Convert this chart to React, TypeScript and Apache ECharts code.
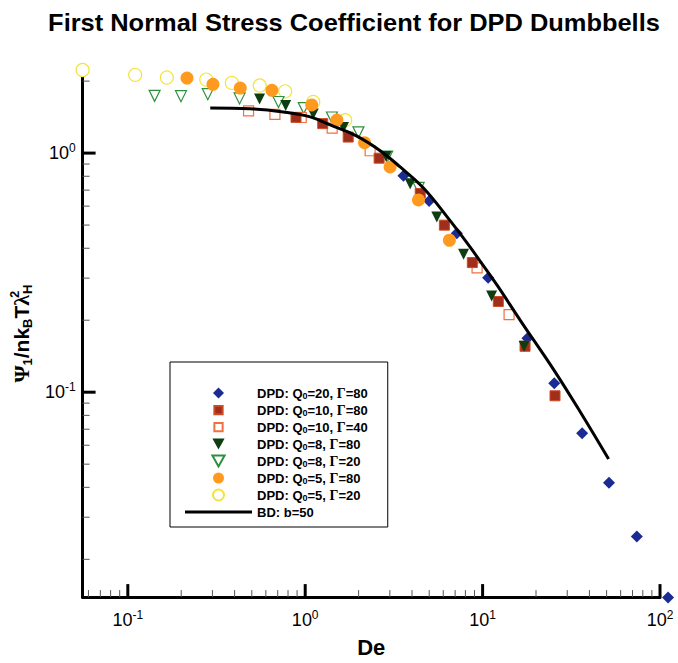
import React, { useEffect, useRef } from 'react';
import * as echarts from 'echarts';

// ---- data (De, Psi1 / nkT lambda_H^2) ----
const q20g80 = [[3.58, 0.804], [4.995, 0.631], [7.155, 0.4625], [10.74, 0.301], [17.9, 0.1682], [25.35, 0.1089], [36.4, 0.0674], [51.6, 0.0418], [74.0, 0.0249], [111, 0.01385]];
const q10g80 = [[0.8875, 1.411], [1.255, 1.328], [1.747, 1.167], [2.61, 0.952], [4.45, 0.678], [6.09, 0.4996], [8.75, 0.3484], [12.26, 0.2396], [17.35, 0.1556], [25.6, 0.0966]];
const q10g40 = [[0.4793, 1.501], [0.675, 1.451], [0.9495, 1.409], [1.419, 1.271], [2.323, 1.023], [9.31, 0.3314], [14.1, 0.2109]];
const q8g80 = [[0.5528, 1.682], [0.776, 1.58], [1.11, 1.456], [1.644, 1.28], [2.86, 0.967], [3.905, 0.745], [5.52, 0.54], [7.81, 0.3776], [11.24, 0.2528], [17.13, 0.1556]];
const q8g20 = [[0.1416, 1.735], [0.1994, 1.73], [0.2824, 1.763], [0.4266, 1.693], [0.707, 1.636], [0.981, 1.542], [1.414, 1.409], [1.996, 1.221], [2.897, 0.967], [4.36, 0.715]];
const q5g80 = [[0.2156, 2.06], [0.302, 1.94], [0.4305, 1.87], [0.649, 1.83], [1.088, 1.59], [1.509, 1.374], [2.16, 1.105], [3.01, 0.875], [4.35, 0.637], [6.5, 0.432]];
const q5g20 = [[0.0556, 2.226], [0.11, 2.125], [0.166, 2.07], [0.277, 2.03], [0.386, 1.966], [0.554, 1.917], [0.771, 1.813], [1.11, 1.636], [1.68, 1.374]];
const bdLine = [[0.2915, 1.542], [0.49, 1.532], [0.752, 1.486], [1.067, 1.418], [1.383, 1.311], [1.955, 1.177], [2.646, 1.023], [3.43, 0.875], [4.64, 0.7145], [6.28, 0.5436], [8.15, 0.4223], [9.68, 0.3537], [12.07, 0.2802], [16.41, 0.1983], [25.35, 0.1231], [35.9, 0.0816], [51.3, 0.0525]];

const seriesNames = [
  'DPD: Q0=20, G=80',
  'DPD: Q0=10, G=80',
  'DPD: Q0=10, G=40',
  'DPD: Q0=8, G=80',
  'DPD: Q0=8, G=20',
  'DPD: Q0=5, G=80',
  'DPD: Q0=5, G=20',
  'BD: b=50',
];
const legendLabels = [
  'DPD: Q{s|0}=20, {g|Γ}=80',
  'DPD: Q{s|0}=10, {g|Γ}=80',
  'DPD: Q{s|0}=10, {g|Γ}=40',
  'DPD: Q{s|0}=8, {g|Γ}=80',
  'DPD: Q{s|0}=8, {g|Γ}=20',
  'DPD: Q{s|0}=5, {g|Γ}=80',
  'DPD: Q{s|0}=5, {g|Γ}=20',
  'BD: b=50',
];

const X_MIN = 0.0556;
const X_MAX = 100;
const Y_MIN = 0.0139;
const Y_MAX = 2.226;
const xMajorTicks = [0.1, 1, 10, 100];
const yMajorTicks = [0.1, 1];
const mantissas = [2, 3, 4, 5, 6, 7, 8, 9];
const xDecades = [0.01, 0.1, 1, 10];
const yDecades = [0.01, 0.1, 1];

const FONT = '"Liberation Sans", Arial, sans-serif';
const SERIF = '"Liberation Serif", "Times New Roman", serif';

const ICON_DIAMOND = 'path://M5,0L10,5L5,10L0,5Z';
const ICON_SQUARE = 'path://M0,0M12,12M1.5,1.5L10.5,1.5L10.5,10.5L1.5,10.5Z';
const ICON_TRI = 'path://M0,0L10,0L5,9Z';
const ICON_CIRCLE = 'path://M5,0A5,5,0,1,1,5,10A5,5,0,1,1,5,0Z';
const ICON_LINE = 'path://M0,0L60,0L60,2.5L0,2.5Z';

export default function App() {
  const ref = useRef<HTMLDivElement>(null);

  useEffect(() => {
    if (!ref.current) return;
    const chart = echarts.init(ref.current, null, { renderer: 'svg' });

    const tickData: number[][] = [];
    xMajorTicks.forEach((v) => tickData.push([v, Y_MIN, 1]));
    yMajorTicks.forEach((v) => tickData.push([X_MIN, v, 1]));
    xDecades.forEach((d) => mantissas.forEach((m) => {
      const v = m * d;
      if (v > X_MIN && v < X_MAX) tickData.push([v, Y_MIN, 0]);
    }));
    yDecades.forEach((d) => mantissas.forEach((m) => {
      const v = m * d;
      if (v > Y_MIN && v < Y_MAX) tickData.push([X_MIN, v, 0]);
    }));

    const decadeFmt = (val: number) => {
      const e = Math.log10(val);
      if (Math.abs(e - Math.round(e)) > 1e-6) return '';
      return '10{sup|' + Math.round(e) + '}';
    };
    const labelRich = {
      sup: { fontSize: 12, lineHeight: 11, verticalAlign: 'top', fontFamily: FONT, color: '#000' },
    };

    const open = (c: string) => ({ color: '#ffffff', borderColor: c, borderWidth: 1.2, opacity: 1 });
    const icons = [ICON_DIAMOND, ICON_SQUARE, ICON_SQUARE, ICON_TRI, ICON_TRI, ICON_CIRCLE, ICON_CIRCLE, ICON_LINE];

    chart.setOption({
      animation: false,
      backgroundColor: '#fff',
      graphic: [
        {
          type: 'text',
          x: 354,
          y: 23,
          scaleX: 1.06,
          style: {
            text: 'First Normal Stress Coefficient for DPD Dumbbells',
            fill: '#000',
            font: 'bold 24px ' + FONT,
            textAlign: 'center',
            textVerticalAlign: 'middle',
          },
        },
      ],
      grid: { left: 82, right: 18, top: 70, bottom: 50, containLabel: false },
      legend: {
        orient: 'vertical',
        left: 170,
        top: 362,
        data: seriesNames.map((n, i) => ({ name: n, icon: icons[i] })),
        itemWidth: 67,
        itemHeight: 11,
        itemGap: 3,
        padding: [24, 20, 8, 15],
        borderColor: '#000',
        borderWidth: 1,
        backgroundColor: '#fff',
        formatter: (name: string) => legendLabels[seriesNames.indexOf(name)],
        textStyle: {
          fontFamily: FONT,
          fontSize: 13,
          fontWeight: 'bold',
          color: '#000',
          lineHeight: 14,
          rich: {
            s: { fontSize: 9, lineHeight: 8, verticalAlign: 'bottom', fontWeight: 'bold', fontFamily: FONT, color: '#000' },
            g: { fontSize: 14, fontWeight: 'bold', fontFamily: SERIF, color: '#000', lineHeight: 14 },
          },
        },
      },
      xAxis: {
        type: 'log',
        logBase: 10,
        min: X_MIN,
        max: X_MAX,
        axisLine: { lineStyle: { color: '#000', width: 3 } },
        axisTick: { show: false },
        splitLine: { show: false },
        axisLabel: {
          formatter: decadeFmt,
          fontSize: 18,
          fontFamily: FONT,
          color: '#000',
          lineHeight: 22,
          margin: 12,
          rich: labelRich,
          showMinLabel: false,
        },
        name: 'De',
        nameLocation: 'middle',
        nameGap: 37,
        nameTextStyle: { fontSize: 22, fontWeight: 'bold', fontFamily: FONT, color: '#000' },
      },
      yAxis: {
        type: 'log',
        logBase: 10,
        min: Y_MIN,
        max: Y_MAX,
        axisLine: { lineStyle: { color: '#000', width: 3 } },
        axisTick: { show: false },
        splitLine: { show: false },
        axisLabel: {
          formatter: decadeFmt,
          fontSize: 18,
          fontFamily: FONT,
          color: '#000',
          lineHeight: 22,
          margin: 7,
          rich: labelRich,
          showMinLabel: false,
          showMaxLabel: false,
        },
        name: '{gr|Ψ}{s|1}/nk{s|B}T{gr|λ}{p|2}{s|H}',
        nameLocation: 'middle',
        nameRotate: 90,
        nameGap: 38,
        nameTextStyle: {
          fontSize: 21,
          fontWeight: 'bold',
          fontFamily: FONT,
          color: '#000',
          lineHeight: 26,
          rich: {
            gr: { fontSize: 22, fontFamily: SERIF, color: '#000', lineHeight: 26 },
            s: { fontSize: 13, lineHeight: 13, verticalAlign: 'bottom', fontWeight: 'bold', fontFamily: FONT, color: '#000' },
            p: { fontSize: 13, lineHeight: 13, verticalAlign: 'top', fontWeight: 'bold', fontFamily: FONT, color: '#000', width: 1 },
          },
        },
      },
      series: [
        {
          name: seriesNames[6], type: 'scatter', data: q5g20, symbol: 'circle', symbolSize: 13, clip: false,
          itemStyle: open('#f2e43c'), z: 2,
        },
        {
          name: seriesNames[4], type: 'scatter', data: q8g20, symbol: 'triangle', symbolRotate: 180, symbolSize: 11, clip: false,
          itemStyle: open('#2f8f3f'), z: 2,
        },
        {
          name: seriesNames[2], type: 'scatter', data: q10g40, symbol: 'rect', symbolSize: 10, clip: false,
          itemStyle: open('#f2703e'), z: 2,
        },
        {
          name: seriesNames[0], type: 'scatter', data: q20g80, symbol: 'diamond', symbolSize: 12, clip: false,
          itemStyle: { color: '#1b2b94', opacity: 1 }, z: 2,
        },
        {
          name: seriesNames[1], type: 'scatter', data: q10g80, symbol: 'rect', symbolSize: 10, clip: false,
          itemStyle: { color: '#a02e1a', borderColor: '#cf4a22', borderWidth: 1, opacity: 1 }, z: 2,
        },
        {
          name: seriesNames[3], type: 'scatter', data: q8g80, symbol: 'triangle', symbolRotate: 180, symbolSize: 11, clip: false,
          itemStyle: { color: '#0f3d12', opacity: 1 }, z: 2,
        },
        {
          name: seriesNames[5], type: 'scatter', data: q5g80, symbol: 'circle', symbolSize: 13, clip: false,
          itemStyle: { color: '#ff9a1e', opacity: 1 }, z: 2,
        },
        {
          name: seriesNames[7], type: 'line', data: bdLine, symbol: 'none', showSymbol: false, clip: false,
          smooth: 0.4,
          lineStyle: { color: '#000', width: 3 }, itemStyle: { color: '#000' }, z: 3,
        },
        {
          name: 'ticks',
          type: 'custom',
          coordinateSystem: 'cartesian2d',
          data: tickData,
          encode: { x: 0, y: 1 },
          silent: true,
          z: 4,
          renderItem: (params: any, api: any) => {
            const x = api.value(0);
            const y = api.value(1);
            const major = api.value(2) === 1;
            const p = api.coord([x, y]);
            const len = major ? 13 : 7;
            const isX = Math.abs(y - Y_MIN) < 1e-9;
            const style = { stroke: major ? '#000' : '#555', lineWidth: major ? 3 : 1 };
            if (isX) {
              return { type: 'line', shape: { x1: p[0], y1: p[1], x2: p[0], y2: p[1] - len }, style };
            }
            return { type: 'line', shape: { x1: p[0], y1: p[1], x2: p[0] + len, y2: p[1] }, style };
          },
        },
      ],
    });

    return () => chart.dispose();
  }, []);

  return <div ref={ref} style={{ position: 'fixed', left: 0, top: 0, width: 678, height: 663 }} />;
}
